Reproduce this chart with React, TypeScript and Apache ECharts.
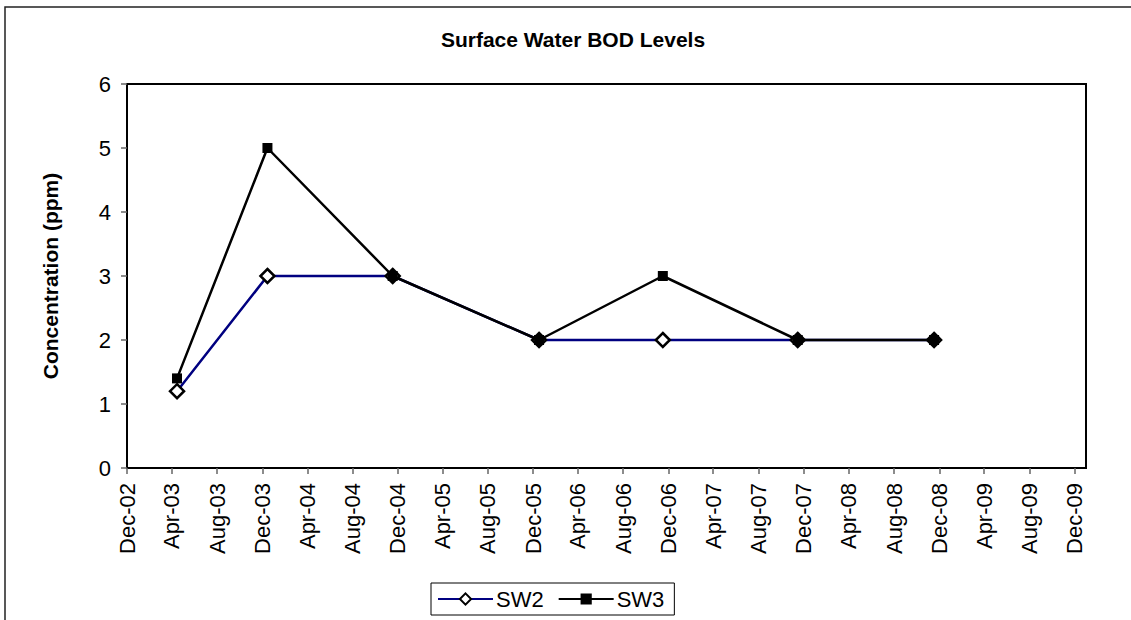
import React, { useEffect, useRef } from "react";
import * as echarts from "echarts";

const sampleDates = ["2003-04-15", "2003-12-15", "2004-11-17", "2005-12-17", "2006-11-16", "2007-11-15", "2008-11-17"];
const sw2Values = [1.2, 3, 3, 2, 2, 2, 2];
const sw3Values = [1.4, 5, 3, 2, 3, 2, 2];
const tickDates = [
  "2002-12-01", "2003-04-01", "2003-08-01", "2003-12-01", "2004-04-01", "2004-08-01",
  "2004-12-01", "2005-04-01", "2005-08-01", "2005-12-01", "2006-04-01", "2006-08-01",
  "2006-12-01", "2007-04-01", "2007-08-01", "2007-12-01", "2008-04-01", "2008-08-01",
  "2008-12-01", "2009-04-01", "2009-08-01", "2009-12-01",
];
const tickLabels = [
  "Dec-02", "Apr-03", "Aug-03", "Dec-03", "Apr-04", "Aug-04",
  "Dec-04", "Apr-05", "Aug-05", "Dec-05", "Apr-06", "Aug-06",
  "Dec-06", "Apr-07", "Aug-07", "Dec-07", "Apr-08", "Aug-08",
  "Dec-08", "Apr-09", "Aug-09", "Dec-09",
];
const axisStart = "2002-12-01";
const axisEnd = "2010-01-01";

const FONT = "'Liberation Sans', Arial, sans-serif";

export default function App() {
  const ref = useRef<HTMLDivElement>(null);
  useEffect(() => {
    if (!ref.current) return;
    const chart = echarts.init(ref.current, null, { renderer: "svg" });
    const tickTs = tickDates.map((d) => Date.parse(d));
    const toPts = (vals: number[]) => sampleDates.map((d, i) => [Date.parse(d), vals[i]]);
    chart.setOption({
      animation: false,
      backgroundColor: "#fff",
      textStyle: { fontFamily: FONT },
      title: {
        text: "Surface Water BOD Levels",
        left: 568,
        textAlign: "center",
        top: 24,
        textStyle: { fontFamily: FONT, fontSize: 21, fontWeight: "bold", color: "#000" },
      },
      graphic: [
        {
          type: "rect",
          shape: { x: 5, y: 7, width: 1300, height: 800 },
          style: { fill: "none", stroke: "#222", lineWidth: 1.5 },
          silent: true,
        },
      ],
      legend: {
        left: 431,
        top: 583,
        orient: "horizontal",
        itemWidth: 55,
        itemHeight: 14,
        itemGap: 14,
        padding: [5, 10, 5, 6],
        borderColor: "#000",
        borderWidth: 1,
        textStyle: { fontFamily: FONT, fontSize: 22, color: "#000", padding: [0, 0, 0, -2] },
        data: ["SW2", "SW3"],
      },
      grid: {
        left: 127,
        top: 84,
        width: 959,
        height: 384,
        show: true,
        borderColor: "#000",
        borderWidth: 2,
        containLabel: false,
      },
      xAxis: {
        type: "value",
        min: Date.parse(axisStart),
        max: Date.parse(axisEnd),
        splitLine: { show: false },
        axisLine: { show: true, lineStyle: { color: "#000", width: 2 } },
        axisTick: {
          show: true,
          customValues: tickTs,
          length: 6,
          lineStyle: { color: "#666", width: 1.5 },
        },
        axisLabel: {
          customValues: tickTs,
          rotate: 90,
          margin: 15,
          fontSize: 22,
          fontFamily: FONT,
          color: "#000",
          formatter: (v: number) => {
            let best = 0;
            for (let i = 0; i < tickTs.length; i++) {
              if (Math.abs(tickTs[i] - v) < Math.abs(tickTs[best] - v)) best = i;
            }
            return tickLabels[best];
          },
        },
      },
      yAxis: {
        type: "value",
        min: 0,
        max: 6,
        interval: 1,
        name: "Concentration (ppm)",
        nameLocation: "middle",
        nameRotate: 90,
        nameGap: 66,
        nameTextStyle: { fontFamily: FONT, fontSize: 21, fontWeight: "bold", color: "#000" },
        splitLine: { show: false },
        axisLine: { show: true, lineStyle: { color: "#000", width: 2 } },
        axisTick: { show: true, length: 6, lineStyle: { color: "#666", width: 1.5 } },
        axisLabel: { fontSize: 22, fontFamily: FONT, color: "#000", margin: 16 },
      },
      series: [
        {
          name: "SW2",
          type: "line",
          data: toPts(sw2Values),
          symbol: "diamond",
          symbolSize: 14,
          showAllSymbol: true,
          lineStyle: { color: "#000080", width: 2.5 },
          itemStyle: { color: "#fff", borderColor: "#000", borderWidth: 2.5 },
          z: 2,
        },
        {
          name: "SW3",
          type: "line",
          data: toPts(sw3Values),
          symbol: "rect",
          symbolSize: 10,
          showAllSymbol: true,
          lineStyle: { color: "#000", width: 2.5 },
          itemStyle: { color: "#000", borderColor: "#000", borderWidth: 0 },
          z: 3,
        },
      ],
    });
    return () => chart.dispose();
  }, []);
  return (
    <div
      ref={ref}
      style={{ position: "fixed", left: 0, top: 0, width: 1131, height: 620, background: "#fff" }}
    />
  );
}
